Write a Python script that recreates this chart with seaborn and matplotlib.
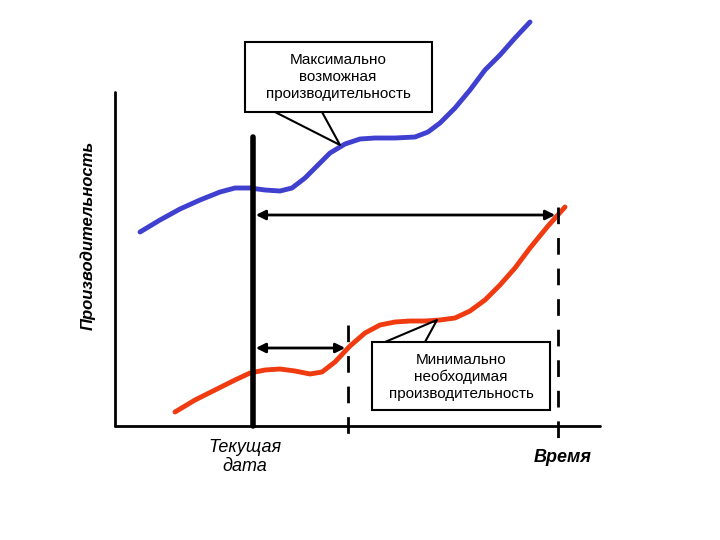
import matplotlib
matplotlib.use('Agg')
import matplotlib.pyplot as plt
import seaborn as sns
import pandas as pd
from matplotlib.patches import FancyArrowPatch

# schematic curves (pixel-like units, y downwards)
blue_x = [140, 160, 180, 200, 220, 235, 250, 265, 280, 292, 305, 318, 330, 345, 360, 375, 395, 415, 428, 440, 455, 470, 485, 500, 515, 530]
blue_y = [232, 220, 209, 200, 192, 188, 188, 190, 191, 188, 178, 165, 153, 144, 139, 138, 138, 137, 132, 123, 108, 90, 70, 55, 38, 22]
red_x = [175, 195, 215, 235, 250, 265, 280, 295, 310, 322, 335, 350, 365, 380, 395, 410, 425, 440, 455, 470, 485, 500, 515, 530, 548, 565]
red_y = [412, 400, 390, 380, 373, 370, 369, 371, 374, 372, 362, 346, 333, 325, 322, 321, 321, 320, 318, 311, 300, 285, 268, 248, 226, 207]

blue = pd.DataFrame({'x': blue_x, 'y': blue_y})
red = pd.DataFrame({'x': red_x, 'y': red_y})

sns.set_style('white')
plt.rcParams['font.family'] = ['Liberation Sans', 'DejaVu Sans']
plt.rcParams['text.color'] = 'black'

fig = plt.figure(figsize=(7.2, 5.4), dpi=100)
ax = fig.add_axes([0, 0, 1, 1])
ax.set_xlim(0, 720)
ax.set_ylim(540, 0)
ax.axis('off')

# axes of the schematic
ax.plot([115, 115], [92, 426], color='black', lw=2)
ax.plot([115, 600], [426, 426], color='black', lw=2)

sns.lineplot(data=blue, x='x', y='y', sort=False, color='#3f3fd0', lw=3.5, ax=ax)
sns.lineplot(data=red, x='x', y='y', sort=False, color='#f03a10', lw=3.5, ax=ax)

# current date line and dashed markers
ax.plot([253, 253], [137, 426], color='black', lw=4)
ax.plot([348, 348], [325, 438], color='black', lw=2, ls=(0, (6, 5)))
ax.plot([558, 558], [207, 438], color='black', lw=2, ls=(0, (6, 5)))

for x0, x1, y in [(253, 558, 215), (253, 348, 348)]:
    ax.add_patch(FancyArrowPatch((x0, y), (x1, y), arrowstyle='<|-|>', mutation_scale=14,
                                 color='black', lw=2))

# callouts
ax.plot([275, 340, 322], [112, 145, 112], color='black', lw=1.5)
ax.add_patch(plt.Rectangle((245, 42), 187, 70, fill=True, fc='white', ec='black', lw=1.5))
ax.text(338, 77, 'Максимально\nвозможная\nпроизводительность', ha='center', va='center', fontsize=11, linespacing=1.25)

ax.plot([385, 437, 425], [342, 320, 342], color='black', lw=1.5)
ax.add_patch(plt.Rectangle((372, 342), 178, 68, fill=True, fc='white', ec='black', lw=1.5))
ax.text(461, 377, 'Минимально\nнеобходимая\nпроизводительность', ha='center', va='center', fontsize=11, linespacing=1.25)

ax.text(88, 235, 'Производительность', rotation=90, ha='center', va='center',
        fontsize=12, style='italic', weight='bold')
ax.text(245, 457, 'Текущая\nдата', ha='center', va='center', fontsize=13, style='italic', linespacing=1.15)
ax.text(563, 458, 'Время', ha='center', va='center', fontsize=13, style='italic', weight='bold')

fig.savefig('out.png', dpi=100)
